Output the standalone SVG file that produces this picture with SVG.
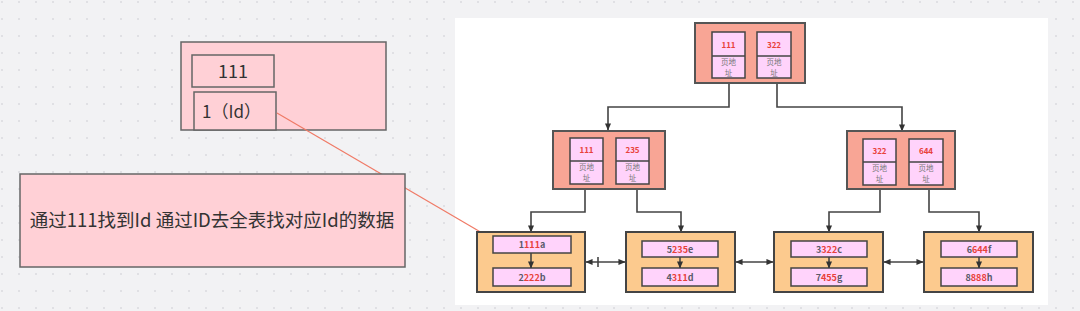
<svg xmlns="http://www.w3.org/2000/svg" width="1080" height="311" viewBox="0 0 1080 311">
<defs>
<pattern id="dots" x="0" y="0" width="17" height="17" patternUnits="userSpaceOnUse">
<circle cx="2" cy="2" r="0.8" fill="#c9c9cf"/>
</pattern>
<marker id="ah" viewBox="0 0 8 8" refX="7.5" refY="4" markerWidth="7" markerHeight="7" markerUnits="userSpaceOnUse" orient="auto-start-reverse">
<path d="M0,0.5 L8,4 L0,7.5 Z" fill="#333"/>
</marker>
<marker id="ahr" viewBox="0 0 8 8" refX="7.5" refY="4" markerWidth="8" markerHeight="8" markerUnits="userSpaceOnUse" orient="auto">
<path d="M0,0.5 L8,4 L0,7.5 Z" fill="#f07a66"/>
</marker>
</defs>
<style>
.pk{fill:#ffd0d6;stroke:#666;stroke-width:1.5}
.nd{fill:#f8a595;stroke:#555;stroke-width:2}
.cl{fill:#ffd3fb;stroke:#444;stroke-width:1.5}
.lf{fill:#fcca8e;stroke:#444;stroke-width:2}
.ln{fill:none;stroke:#444;stroke-width:1.6}
.t{font-family:"Noto Sans CJK SC","Noto Sans",sans-serif}
.k{font-family:"Noto Sans CJK SC","Noto Sans",sans-serif;font-size:8px;font-weight:bold;fill:#e8413a;text-anchor:middle}
.p{font-family:"Noto Sans CJK SC",sans-serif;font-size:7.5px;fill:#777;text-anchor:middle}
.v{font-family:"Noto Sans CJK SC","Noto Sans",sans-serif;font-size:9px;font-weight:bold;fill:#5a5a6a;text-anchor:middle}
.r{fill:#e8413a}
</style>
<rect x="0" y="0" width="1080" height="311" fill="#f2f2f4"/>
<rect x="0" y="0" width="1080" height="311" fill="url(#dots)"/>
<rect x="455" y="18" width="593" height="287" fill="#ffffff"/>

<g id="connectors">
<path class="ln" d="M729,83 V107 H608 V130" marker-end="url(#ah)"/>
<path class="ln" d="M777,83 V107 H902 V131" marker-end="url(#ah)"/>
<path class="ln" d="M585,189 V212 H531 V232" marker-end="url(#ah)"/>
<path class="ln" d="M637,189 V212 H681 V232" marker-end="url(#ah)"/>
<path class="ln" d="M880,189 V212 H829 V232" marker-end="url(#ah)"/>
<path class="ln" d="M929,189 V212 H979 V232" marker-end="url(#ah)"/>
<path class="ln" d="M586,262 H625" marker-start="url(#ah)" marker-end="url(#ah)"/>
<path class="ln" d="M598,257 V267"/>
<path class="ln" d="M736,262 H773" marker-start="url(#ah)" marker-end="url(#ah)"/>
<path class="ln" d="M884,262 H923" marker-start="url(#ah)" marker-end="url(#ah)"/>
</g>

<g id="index-node">
<rect class="pk" x="181" y="42" width="205" height="88"/>
<rect class="pk" x="192" y="55" width="82" height="32"/>
<text class="t" x="233" y="78" font-size="18" fill="#333" text-anchor="middle">111</text>
<rect class="pk" x="194" y="92" width="82" height="38"/>
<text class="t" x="202" y="118" font-size="17" fill="#333">1（Id）</text>
</g>

<g id="lookup-connector">
<path d="M277,113 L501,244" fill="none" stroke="#f07a66" stroke-width="1.2" marker-end="url(#ahr)"/>
</g>

<g id="note">
<rect class="pk" x="20" y="174" width="385" height="93"/>
<text class="t" x="212" y="227" font-size="18.5" fill="#333" text-anchor="middle">通过111找到Id 通过ID去全表找对应Id的数据</text>
</g>

<g id="root">
<rect class="nd" x="695" y="23" width="110" height="60"/>
<rect class="cl" x="712" y="32" width="33" height="46"/>
<line x1="712" y1="56" x2="745" y2="56" stroke="#444" stroke-width="1.5"/>
<text class="k" x="728.5" y="48">111</text>
<text class="p" x="728.5" y="64.5">页地</text>
<text class="p" x="728.5" y="75.5">址</text>
<rect class="cl" x="757" y="32" width="34" height="46"/>
<line x1="757" y1="56" x2="791" y2="56" stroke="#444" stroke-width="1.5"/>
<text class="k" x="774" y="48">322</text>
<text class="p" x="774" y="64.5">页地</text>
<text class="p" x="774" y="75.5">址</text>
</g>

<g id="inner-left">
<rect class="nd" x="553" y="131" width="112" height="58"/>
<rect class="cl" x="570" y="138" width="33" height="46"/>
<line x1="570" y1="161" x2="603" y2="161" stroke="#444" stroke-width="1.5"/>
<text class="k" x="586.5" y="153">111</text>
<text class="p" x="586.5" y="169.5">页地</text>
<text class="p" x="586.5" y="180.5">址</text>
<rect class="cl" x="616" y="138" width="33" height="46"/>
<line x1="616" y1="161" x2="649" y2="161" stroke="#444" stroke-width="1.5"/>
<text class="k" x="632.5" y="153">235</text>
<text class="p" x="632.5" y="169.5">页地</text>
<text class="p" x="632.5" y="180.5">址</text>
</g>

<g id="inner-right">
<rect class="nd" x="847" y="131" width="108" height="58"/>
<rect class="cl" x="863" y="139" width="33" height="46"/>
<line x1="863" y1="162" x2="896" y2="162" stroke="#444" stroke-width="1.5"/>
<text class="k" x="879.5" y="154">322</text>
<text class="p" x="879.5" y="170.5">页地</text>
<text class="p" x="879.5" y="181.5">址</text>
<rect class="cl" x="909" y="139" width="34" height="46"/>
<line x1="909" y1="162" x2="943" y2="162" stroke="#444" stroke-width="1.5"/>
<text class="k" x="926" y="154">644</text>
<text class="p" x="926" y="170.5">页地</text>
<text class="p" x="926" y="181.5">址</text>
</g>

<g id="leaf-1">
<rect class="lf" x="477" y="232" width="108" height="60"/>
<rect class="cl" x="493" y="236" width="78" height="17"/>
<text class="v" x="532" y="248">1<tspan class="r">111</tspan>a</text>
<rect class="cl" x="493" y="268" width="78" height="18"/>
<text class="v" x="532" y="280.5">2<tspan class="r">222</tspan>b</text>
<path class="ln" d="M531,253 V268" marker-end="url(#ah)"/>
</g>

<g id="leaf-2">
<rect class="lf" x="626" y="232" width="109" height="60"/>
<rect class="cl" x="642" y="241" width="76" height="16"/>
<text class="v" x="680" y="252.5">5<tspan class="r">235</tspan>e</text>
<rect class="cl" x="642" y="268" width="76" height="18"/>
<text class="v" x="680" y="280.5">4<tspan class="r">311</tspan>d</text>
<path class="ln" d="M680,257 V268" marker-end="url(#ah)"/>
</g>

<g id="leaf-3">
<rect class="lf" x="774" y="232" width="109" height="60"/>
<rect class="cl" x="791" y="241" width="76" height="16"/>
<text class="v" x="829" y="252.5">3<tspan class="r">322</tspan>c</text>
<rect class="cl" x="791" y="268" width="76" height="18"/>
<text class="v" x="829" y="280.5">7<tspan class="r">455</tspan>g</text>
<path class="ln" d="M829,257 V268" marker-end="url(#ah)"/>
</g>

<g id="leaf-4">
<rect class="lf" x="924" y="232" width="109" height="60"/>
<rect class="cl" x="941" y="241" width="76" height="16"/>
<text class="v" x="979" y="252.5">6<tspan class="r">644</tspan>f</text>
<rect class="cl" x="941" y="268" width="76" height="18"/>
<text class="v" x="979" y="280.5">8<tspan class="r">888</tspan>h</text>
<path class="ln" d="M979,257 V268" marker-end="url(#ah)"/>
</g>
</svg>
